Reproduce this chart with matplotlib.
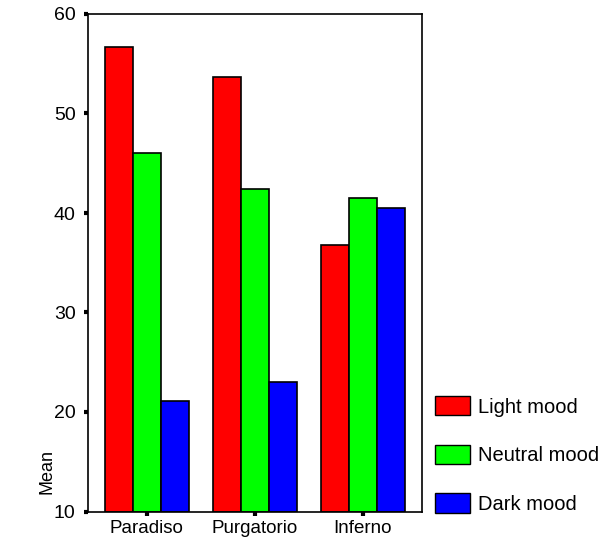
import matplotlib
matplotlib.use("Agg")
import matplotlib.pyplot as plt
import numpy as np
from matplotlib.patches import Patch

categories = ["Paradiso", "Purgatorio", "Inferno"]
series_names = ["Light mood", "Neutral mood", "Dark mood"]
light = [56.7, 53.7, 36.8]
neutral = [46.0, 42.4, 41.5]
dark = [21.1, 23.0, 40.5]
colors = ["#ff0000", "#00ff00", "#0000ff"]
yticks = [10, 20, 30, 40, 50, 60]

plt.rcParams['font.family'] = ['Liberation Sans', 'DejaVu Sans']
FS = 14

fig = plt.figure(figsize=(6.07, 5.39), dpi=100)
ax = fig.add_axes([88/607, 1 - 511.5/539, (422-88)/607, (511.5-14)/539])

x = np.arange(len(categories))
w = 0.26
for i, (vals, c) in enumerate(zip([light, neutral, dark], colors)):
    ax.bar(x + (i - 1) * w, np.array(vals) - 10, width=w, bottom=10,
           color=c, edgecolor="black", linewidth=1.2, zorder=2)

ax.set_xlim(-0.545, 2.55)
ax.set_ylim(10, 60)
ax.set_yticks(yticks)
ax.set_yticklabels([str(t) for t in yticks], fontsize=FS)
ax.set_xticks(x)
ax.set_xticklabels(categories, fontsize=13.5)
ax.tick_params(axis='y', direction='out', length=3, width=3, color='black', pad=6)
ax.tick_params(axis='x', direction='out', length=3, width=3, color='black', pad=3)
for s in ax.spines.values():
    s.set_linewidth(1.2)

fig.text(47/607, 1 - 472/539, "Mean", rotation=90, ha='center', va='center', fontsize=13)

handles = [Patch(facecolor=c, edgecolor='black', linewidth=1.0, label=n) for c, n in zip(colors, series_names)]
fig.legend(handles=handles, loc='upper left', bbox_to_anchor=(435/607, 1 - 396/539),
           frameon=False, fontsize=14.5, handlelength=1.75, handleheight=1.1,
           labelspacing=1.4, handletextpad=0.4, borderaxespad=0, borderpad=0)

fig.savefig("out.png", dpi=100)
